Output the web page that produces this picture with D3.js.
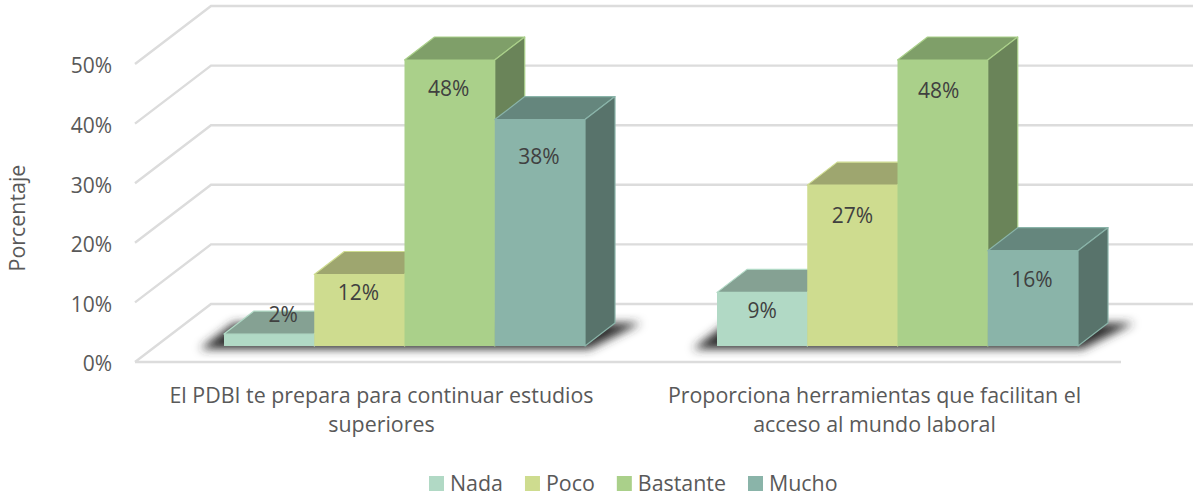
<!DOCTYPE html>
<html>
<head>
<meta charset="utf-8">
<script src="https://cdn.jsdelivr.net/npm/d3@7"></script>
<style>
  body { margin: 0; background: #fff; }
  svg { display: block; }
  text { font-family: "Open Sans", sans-serif; }
</style>
</head>
<body>
<svg id="chart"></svg>
<script>
var categories = [
  ['El PDBI te prepara para continuar estudios', 'superiores'],
  ['Proporciona herramientas que facilitan el', 'acceso al mundo laboral']
];
var seriesNames = ['Nada', 'Poco', 'Bastante', 'Mucho'];
var nada = [2, 9];
var poco = [12, 27];
var bastante = [48, 48];
var mucho = [38, 16];
var yTicks = [0, 10, 20, 30, 40, 50];

// face colours per series
var frontColors = ['#b1d9c5', '#cedc8f', '#aad08a', '#8ab4a9'];
var topColors = ['#85a193', '#9ea66f', '#7f9f69', '#65867d'];
var sideColors = ['#6f8a7d', '#87905f', '#6a8459', '#58736b'];

// hand placed data labels, relative to the top of the bar, as in the original
var labelDx = [[14, 0], [-1, 0], [-1, -4], [-1, -1]];
var labelDy = [[-19, 18], [18, 31], [29, 31], [37, 29]];

var width = 1193, height = 497;
var fontSize = 21, catFontSize = 21.4;
var depth = {x: 76, y: -58};       // floor depth
var barDepth = {x: 30, y: -23};
var barInset = {x: 23, y: -16};    // bars stand a bit behind the front edge

var values = [nada, poco, bastante, mucho];

var svg = d3.select('#chart').attr('width', width).attr('height', height);

var defs = svg.append('defs');
defs.append('filter').attr('id', 'blur')
    .attr('x', '-10%').attr('y', '-40%').attr('width', '120%').attr('height', '180%')
  .append('feGaussianBlur').attr('stdDeviation', 5);

var x0 = d3.scaleBand().domain(d3.range(categories.length)).range([135, 1121]);
var x1 = d3.scaleBand().domain(d3.range(seriesNames.length)).range([-180.5, 180.5]);
var y = d3.scaleLinear().domain([0, 50]).range([362, 64]);
var yBar = d3.scaleLinear().domain([0, 48]).range([y(0) + barInset.y, 60]);

function pts(list) {
  return list.map(function(p) { return p.join(','); }).join(' ');
}

// walls and floor grid
var grid = svg.append('g').attr('fill', 'none').attr('stroke', '#dcdcdc').attr('stroke-width', 2.4);
yTicks.forEach(function(t) {
  grid.append('polyline').attr('points', pts([
    [x0.range()[0], y(t)],
    [x0.range()[0] + depth.x, y(t) + depth.y],
    [width, y(t) + depth.y]
  ]));
});
grid.append('line')
  .attr('x1', x0.range()[0]).attr('x2', x0.range()[1])
  .attr('y1', y(0)).attr('y2', y(0));

// y axis labels
svg.append('g').selectAll('text').data(yTicks).enter().append('text')
  .attr('x', 112).attr('y', function(d) { return y(d) + 2; })
  .attr('dy', '0.35em').attr('text-anchor', 'end')
  .attr('font-size', fontSize).attr('fill', '#595959')
  .text(function(d) { return d + '%'; });

svg.append('text')
  .attr('transform', 'translate(25,218) rotate(-90)')
  .attr('text-anchor', 'middle').attr('font-size', catFontSize).attr('fill', '#595959')
  .text('Porcentaje');

// bars, group by group
var groups = svg.append('g').selectAll('g').data(categories).enter().append('g')
  .attr('transform', function(d, i) {
    return 'translate(' + (x0(i) + x0.bandwidth() / 2 + barInset.x) + ',0)';
  });

groups.each(function(cat, c) {
  var g = d3.select(this);
  var left = x1(0), right = x1(seriesNames.length - 1) + x1.bandwidth(), base = yBar(0);

  g.append('polygon')
    .attr('points', pts([
      [left - 24, base + 3],
      [right + 4, base + 3],
      [right + barDepth.x + 26, base + barDepth.y],
      [left + 10, base + barDepth.y]
    ]))
    .attr('fill', '#2e2e2e')
    .attr('filter', 'url(#blur)');

  seriesNames.forEach(function(name, s) {
    var xa = x1(s), xb = xa + x1.bandwidth(), yt = yBar(values[s][c]);
    var dx = barDepth.x, dy = barDepth.y;
    var bar = g.append('g').attr('stroke', frontColors[s]).attr('stroke-width', 1.2).attr('stroke-linejoin', 'round');
    bar.append('polygon').attr('fill', topColors[s])
      .attr('points', pts([[xa, yt], [xa + dx, yt + dy], [xb + dx, yt + dy], [xb, yt]]));
    bar.append('polygon').attr('fill', sideColors[s])
      .attr('points', pts([[xb, yt], [xb + dx, yt + dy], [xb + dx, base + dy], [xb, base]]));
    bar.append('rect').attr('fill', frontColors[s]).attr('stroke', 'none')
      .attr('x', xa).attr('y', yt).attr('width', xb - xa).attr('height', base - yt);
  });

  // labels go last so the 2% one is not covered
  seriesNames.forEach(function(name, s) {
    g.append('text')
      .attr('x', x1(s) + x1.bandwidth() / 2 + labelDx[s][c])
      .attr('y', yBar(values[s][c]) + labelDy[s][c])
      .attr('dy', '0.35em').attr('text-anchor', 'middle')
      .attr('font-size', fontSize).attr('fill', '#404040')
      .text(values[s][c] + '%');
  });
});

// category labels
var catLabels = svg.append('g').selectAll('text').data(categories).enter().append('text')
  .attr('text-anchor', 'middle').attr('font-size', catFontSize).attr('fill', '#595959');
catLabels.selectAll('tspan').data(function(d, i) {
    return d.map(function(line) { return {line: line, i: i}; });
  }).enter().append('tspan')
  .attr('x', function(d) { return x0(d.i) + x0.bandwidth() / 2; })
  .attr('y', function(d, k) { return 403 + k * 29; })
  .text(function(d) { return d.line; });

// legend, laid out from the measured text widths
var legend = svg.append('g');
var cursor = 429;
seriesNames.forEach(function(name, s) {
  legend.append('rect').attr('x', cursor).attr('y', 476)
    .attr('width', 15).attr('height', 15).attr('fill', frontColors[s]);
  var t = legend.append('text').attr('x', cursor + 21).attr('y', 491)
    .attr('font-size', catFontSize).attr('fill', '#595959').text(name);
  cursor += 21 + t.node().getComputedTextLength() + 22;
});
</script>
</body>
</html>
